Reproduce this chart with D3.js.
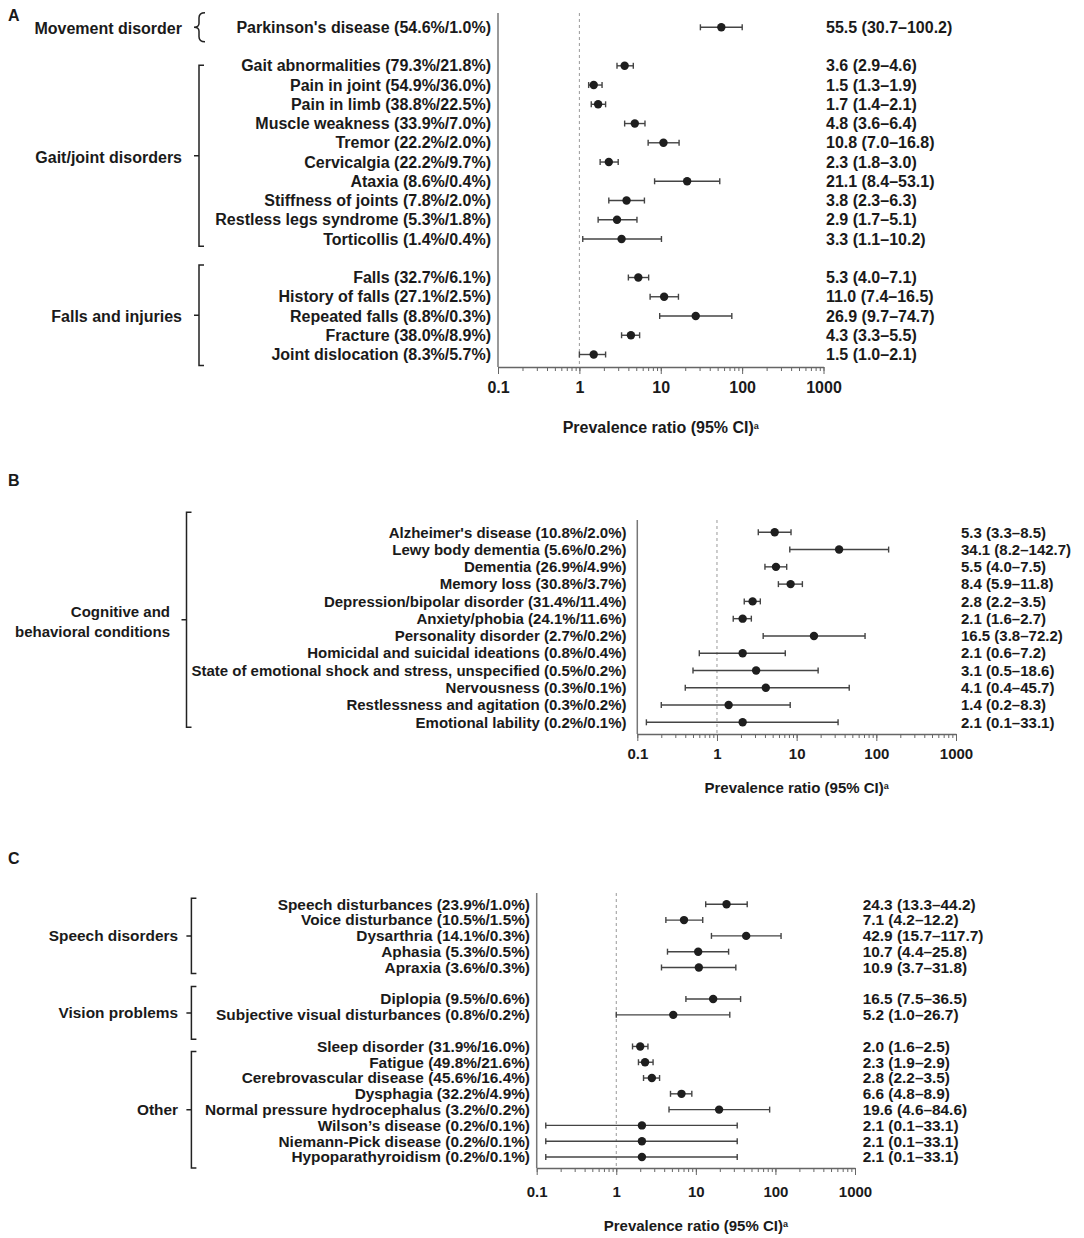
<!DOCTYPE html>
<html>
<head>
<meta charset="utf-8">
<script src="https://cdn.jsdelivr.net/npm/d3@7"></script>
<style>
body { margin: 0; background: #fff; }
text { font-family: "Liberation Sans", Arial, Helvetica, sans-serif; font-weight: bold; fill: #1a1a1a; }
</style>
</head>
<body>
<svg id="chart" width="1084" height="1238"></svg>
<script>
// ---- data: panel A ----
var groupsA = ["Movement disorder", "Gait/joint disorders", "Falls and injuries"];
var labelsA = ["Parkinson's disease (54.6%/1.0%)", "Gait abnormalities (79.3%/21.8%)", "Pain in joint (54.9%/36.0%)",
  "Pain in limb (38.8%/22.5%)", "Muscle weakness (33.9%/7.0%)", "Tremor (22.2%/2.0%)", "Cervicalgia (22.2%/9.7%)",
  "Ataxia (8.6%/0.4%)", "Stiffness of joints (7.8%/2.0%)", "Restless legs syndrome (5.3%/1.8%)", "Torticollis (1.4%/0.4%)",
  "Falls (32.7%/6.1%)", "History of falls (27.1%/2.5%)", "Repeated falls (8.8%/0.3%)", "Fracture (38.0%/8.9%)",
  "Joint dislocation (8.3%/5.7%)"];
var groupOfA = [0, 1, 1, 1, 1, 1, 1, 1, 1, 1, 1, 2, 2, 2, 2, 2];
var estA = [55.5, 3.6, 1.5, 1.7, 4.8, 10.8, 2.3, 21.1, 3.8, 2.9, 3.3, 5.3, 11.0, 26.9, 4.3, 1.5];
var lowA = [30.7, 2.9, 1.3, 1.4, 3.6, 7.0, 1.8, 8.4, 2.3, 1.7, 1.1, 4.0, 7.4, 9.7, 3.3, 1.0];
var highA = [100.2, 4.6, 1.9, 2.1, 6.4, 16.8, 3.0, 53.1, 6.3, 5.1, 10.2, 7.1, 16.5, 74.7, 5.5, 2.1];

// ---- data: panel B ----
var groupsB = ["Cognitive and|behavioral conditions"];
var labelsB = ["Alzheimer's disease (10.8%/2.0%)", "Lewy body dementia (5.6%/0.2%)", "Dementia (26.9%/4.9%)",
  "Memory loss (30.8%/3.7%)", "Depression/bipolar disorder (31.4%/11.4%)", "Anxiety/phobia (24.1%/11.6%)",
  "Personality disorder (2.7%/0.2%)", "Homicidal and suicidal ideations (0.8%/0.4%)",
  "State of emotional shock and stress, unspecified (0.5%/0.2%)", "Nervousness (0.3%/0.1%)",
  "Restlessness and agitation (0.3%/0.2%)", "Emotional lability (0.2%/0.1%)"];
var groupOfB = [0, 0, 0, 0, 0, 0, 0, 0, 0, 0, 0, 0];
var estB = [5.3, 34.1, 5.5, 8.4, 2.8, 2.1, 16.5, 2.1, 3.1, 4.1, 1.4, 2.1];
var lowB = [3.3, 8.2, 4.0, 5.9, 2.2, 1.6, 3.8, 0.6, 0.5, 0.4, 0.2, 0.13];
var highB = [8.5, 142.7, 7.5, 11.8, 3.5, 2.7, 72.2, 7.2, 18.6, 45.7, 8.3, 33.1];

// ---- data: panel C ----
var groupsC = ["Speech disorders", "Vision problems", "Other"];
var labelsC = ["Speech disturbances (23.9%/1.0%)", "Voice disturbance (10.5%/1.5%)", "Dysarthria (14.1%/0.3%)",
  "Aphasia (5.3%/0.5%)", "Apraxia (3.6%/0.3%)", "Diplopia (9.5%/0.6%)",
  "Subjective visual disturbances (0.8%/0.2%)", "Sleep disorder (31.9%/16.0%)", "Fatigue (49.8%/21.6%)",
  "Cerebrovascular disease (45.6%/16.4%)", "Dysphagia (32.2%/4.9%)", "Normal pressure hydrocephalus (3.2%/0.2%)",
  "Wilson\u2019s disease (0.2%/0.1%)", "Niemann-Pick disease (0.2%/0.1%)", "Hypoparathyroidism (0.2%/0.1%)"];
var groupOfC = [0, 0, 0, 0, 0, 1, 1, 2, 2, 2, 2, 2, 2, 2, 2];
var estC = [24.3, 7.1, 42.9, 10.7, 10.9, 16.5, 5.2, 2.0, 2.3, 2.8, 6.6, 19.6, 2.1, 2.1, 2.1];
var lowC = [13.3, 4.2, 15.7, 4.4, 3.7, 7.5, 1.0, 1.6, 1.9, 2.2, 4.8, 4.6, 0.13, 0.13, 0.13];
var highC = [44.2, 12.2, 117.7, 25.8, 31.8, 36.5, 26.7, 2.5, 2.9, 3.5, 8.9, 84.6, 33.1, 33.1, 33.1];

var tickValues = [0.1, 1, 10, 100, 1000];
var tickLabels = ["0.1", "1", "10", "100", "1000"];
var axisTitle = "Prevalence ratio (95% CI)";

var svg = d3.select("#chart");

function drawPanel(p, groups, labels, groupOf, est, low, high) {
  var g = svg.append("g");
  var x = d3.scaleLog().domain([0.1, 1000]).range([p.x0, p.x1]);
  var nRows = labels.length + groups.length - 1;
  var y = d3.scaleLinear().domain([0, nRows - 1]).range([p.rowY0, p.rowY1]);
  var pos = labels.map(function (d, i) { return i + groupOf[i]; });

  g.append("text").attr("x", 8).attr("y", p.letterY).attr("dy", "0.35em")
    .style("font-size", "16px").text(p.letter);

  // reference line at 1
  g.append("line").attr("x1", x(1)).attr("x2", x(1)).attr("y1", p.top).attr("y2", p.axisY)
    .attr("stroke", "#999").attr("stroke-width", 1).attr("stroke-dasharray", "3,3");
  // left vertical line
  g.append("line").attr("x1", p.x0).attr("x2", p.x0).attr("y1", p.top).attr("y2", p.axisY)
    .attr("stroke", "#777").attr("stroke-width", 1.5);

  // minor ticks
  var minor = g.append("g").attr("transform", "translate(0," + p.axisY + ")")
    .call(d3.axisBottom(x).tickValues(x.ticks()).tickSize(4).tickSizeOuter(0).tickFormat(""));
  minor.select(".domain").attr("stroke", "#666").attr("stroke-width", 1.5);
  minor.selectAll(".tick line").attr("stroke", "#666");
  // major ticks + labels
  var major = g.append("g").attr("transform", "translate(0," + p.axisY + ")")
    .call(d3.axisBottom(x).tickValues(tickValues).tickSize(7).tickSizeOuter(0)
      .tickFormat(function (d, i) { return tickLabels[i]; }));
  major.select(".domain").remove();
  major.selectAll(".tick line").attr("stroke", "#666");
  major.selectAll(".tick text").attr("y", p.tickDy).attr("dy", "0.35em")
    .attr("font-family", null).attr("font-size", null).attr("fill", null)
    .style("font-size", p.tickFont + "px");

  var title = g.append("text").attr("x", (p.x0 + p.x1) / 2).attr("y", p.axisY + p.titleDy)
    .attr("dy", "0.35em").attr("text-anchor", "middle").style("font-size", p.tickFont + "px");
  title.append("tspan").text(axisTitle);
  title.append("tspan").attr("dy", "-0.45em").style("font-size", "9px").text("a");

  // row labels
  g.selectAll("text.lab").data(labels).enter().append("text").attr("class", "lab")
    .attr("x", p.labelX).attr("y", function (d, i) { return y(pos[i]); })
    .attr("dy", "0.35em").attr("text-anchor", "end").style("font-size", p.font + "px")
    .text(function (d) { return d; });

  // value labels
  g.selectAll("text.val").data(est).enter().append("text").attr("class", "val")
    .attr("x", p.valueX).attr("y", function (d, i) { return y(pos[i]); })
    .attr("dy", "0.35em").style("font-size", p.font + "px")
    .text(function (d, i) { return d.toFixed(1) + " (" + low[i].toFixed(1) + "\u2013" + high[i].toFixed(1) + ")"; });

  // CI whiskers
  var ci = g.selectAll("g.ci").data(est).enter().append("g").attr("class", "ci")
    .attr("stroke", "#444").attr("stroke-width", 1.4);
  ci.append("line").attr("x1", function (d, i) { return x(low[i]); })
    .attr("x2", function (d, i) { return x(high[i]); })
    .attr("y1", function (d, i) { return y(pos[i]); }).attr("y2", function (d, i) { return y(pos[i]); });
  ci.append("line").attr("x1", function (d, i) { return x(low[i]); }).attr("x2", function (d, i) { return x(low[i]); })
    .attr("y1", function (d, i) { return y(pos[i]) - 3; }).attr("y2", function (d, i) { return y(pos[i]) + 3; });
  ci.append("line").attr("x1", function (d, i) { return x(high[i]); }).attr("x2", function (d, i) { return x(high[i]); })
    .attr("y1", function (d, i) { return y(pos[i]) - 3; }).attr("y2", function (d, i) { return y(pos[i]) + 3; });
  g.selectAll("circle.pt").data(est).enter().append("circle").attr("class", "pt")
    .attr("cx", function (d) { return x(d); }).attr("cy", function (d, i) { return y(pos[i]); })
    .attr("r", 4.2).attr("fill", "#1e1e1e");

  // group brackets
  groups.forEach(function (name, gi) {
    var idx = pos.filter(function (d, i) { return groupOf[i] === gi; });
    var top = y(d3.min(idx)) - p.pads[gi][0];
    var bot = y(d3.max(idx)) + p.pads[gi][1];
    var mid = (top + bot) / 2;
    var bx = p.bracketX;
    var path;
    if (p.curly && p.curly[gi]) {
      path = "M" + (bx + 6) + "," + top + " Q" + bx + "," + top + " " + bx + "," + (top + 5) +
        " L" + bx + "," + (mid - 4) + " Q" + bx + "," + mid + " " + (bx - 5) + "," + mid +
        " Q" + bx + "," + mid + " " + bx + "," + (mid + 4) +
        " L" + bx + "," + (bot - 5) + " Q" + bx + "," + bot + " " + (bx + 6) + "," + bot;
    } else {
      path = "M" + (bx + 5) + "," + top + " L" + bx + "," + top + " L" + bx + "," + bot + " L" + (bx + 5) + "," + bot +
        " M" + bx + "," + mid + " L" + (bx - 5) + "," + mid;
    }
    g.append("path").attr("d", path).attr("fill", "none").attr("stroke", "#222").attr("stroke-width", 1.5);
    var lines = name.split("|");
    lines.forEach(function (ln, li) {
      g.append("text").attr("x", p.groupX).attr("y", mid + (li - (lines.length - 1) / 2) * p.groupLine + p.groupDy)
        .attr("dy", "0.35em").attr("text-anchor", "end").style("font-size", p.font + "px").text(ln);
    });
  });
}

drawPanel({
  letter: "A", letterY: 15, x0: 498, x1: 823.5, axisY: 367, top: 13,
  rowY0: 27.3, rowY1: 354.5, labelX: 491, valueX: 826, font: 16, tickFont: 16, tickDy: 20, titleDy: 60,
  bracketX: 199, groupX: 182, groupLine: 19, groupDy: 1.5,
  pads: [[14.5, 14.5], [0.5, 7.3], [12.5, 11]], curly: [true, false, false]
}, groupsA, labelsA, groupOfA, estA, lowA, highA);

drawPanel({
  letter: "B", letterY: 480, x0: 637.3, x1: 956, axisY: 734, top: 520,
  rowY0: 532.3, rowY1: 722.3, labelX: 626.5, valueX: 961, font: 15, tickFont: 15, tickDy: 20, titleDy: 54,
  bracketX: 186.5, groupX: 170, groupLine: 19.6, groupDy: 2,
  pads: [[20, 5]]
}, groupsB, labelsB, groupOfB, estB, lowB, highB);

drawPanel({
  letter: "C", letterY: 858, x0: 536.7, x1: 855, axisY: 1168, top: 893,
  rowY0: 904.3, rowY1: 1157, labelX: 530, valueX: 862.7, font: 15.4, tickFont: 15, tickDy: 24, titleDy: 58,
  bracketX: 191.4, groupX: 178, groupLine: 19, groupDy: 0,
  pads: [[6, 6], [12.5, 24.5], [-5, 11]]
}, groupsC, labelsC, groupOfC, estC, lowC, highC);
</script>
</body>
</html>
